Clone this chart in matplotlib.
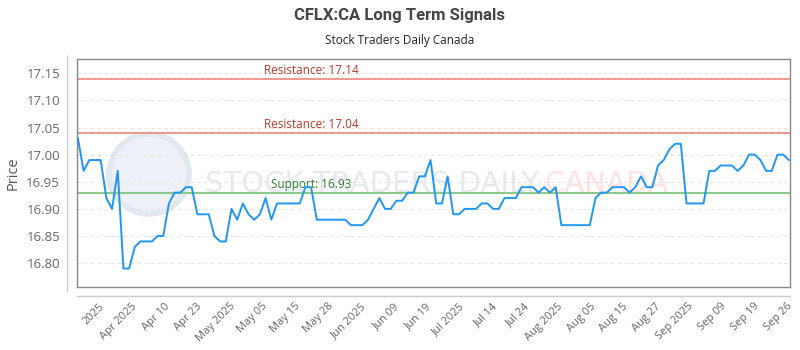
import matplotlib
matplotlib.use("Agg")
import matplotlib.pyplot as plt
import numpy as np
from matplotlib.lines import Line2D
from matplotlib.patches import Circle

# closing prices, one per trading day
prices = [17.03, 16.97, 16.99, 16.99, 16.99, 16.92, 16.90, 16.97, 16.79, 16.79,
          16.83, 16.84, 16.84, 16.84, 16.85, 16.85, 16.91, 16.93, 16.93, 16.94,
          16.94, 16.89, 16.89, 16.89, 16.85, 16.84, 16.84, 16.90, 16.88, 16.91,
          16.89, 16.88, 16.89, 16.92, 16.88, 16.91, 16.91, 16.91, 16.91, 16.91,
          16.94, 16.94, 16.88, 16.88, 16.88, 16.88, 16.88, 16.88, 16.87, 16.87,
          16.87, 16.88, 16.90, 16.92, 16.90, 16.90, 16.915, 16.915, 16.93, 16.93,
          16.96, 16.96, 16.99, 16.91, 16.91, 16.96, 16.89, 16.89, 16.90, 16.90,
          16.90, 16.91, 16.91, 16.90, 16.90, 16.92, 16.92, 16.92, 16.94, 16.94,
          16.94, 16.93, 16.94, 16.93, 16.94, 16.87, 16.87, 16.87, 16.87, 16.87,
          16.87, 16.92, 16.93, 16.93, 16.94, 16.94, 16.94, 16.93, 16.94, 16.96,
          16.94, 16.94, 16.98, 16.99, 17.01, 17.02, 17.02, 16.91, 16.91, 16.91,
          16.91, 16.97, 16.97, 16.98, 16.98, 16.98, 16.97, 16.98, 17.00, 17.00,
          16.99, 16.97, 16.97, 17.00, 17.00, 16.99]

tick_labels = ["2025", "Apr 2025", "Apr 10", "Apr 23", "May 2025", "May 05",
               "May 15", "May 28", "Jun 2025", "Jun 09", "Jun 19", "Jul 2025",
               "Jul 14", "Jul 24", "Aug 2025", "Aug 05", "Aug 15", "Aug 27",
               "Sep 2025", "Sep 09", "Sep 19", "Sep 26"]

resistance = [17.14, 17.04]
support = [16.93]

fig = plt.figure(figsize=(8, 3.5), dpi=100)
ax = fig.add_axes([0.096, 0.18, 0.8915, 0.651])

x = np.arange(len(prices))

# watermark (logo circle + text)
ax.add_patch(Circle((1.49, 1.76), 0.40, transform=fig.dpi_scale_trans,
                    facecolor="#eef2f8", edgecolor="#e2e8f0", lw=4, zorder=0))
ax.text(0.18, 0.45, "STOCK TRADERS DAILY", transform=ax.transAxes,
        fontsize=21, color="#e6eaf0", va="center", ha="left",
        family="DejaVu Sans", zorder=0)
ax.text(0.655, 0.45, "CANADA", transform=ax.transAxes,
        fontsize=21, color="#fde3e3", va="center", ha="left",
        family="DejaVu Sans", zorder=0)

for r in resistance:
    ax.axhline(r, color="#ef8f86", lw=1.3, zorder=2)
    ax.text(41, r + 0.003, f"Resistance: {r:.2f}", color="#b83a2f",
            fontsize=8.5, ha="center", va="bottom", family="Open Sans")
for s in support:
    ax.axhline(s, color="#8cc98c", lw=1.5, zorder=2)
    ax.text(41, s + 0.003, f"Support: {s:.2f}", color="#2e7d32",
            fontsize=8.5, ha="center", va="bottom", family="Open Sans")

ax.plot(x, prices, color="#2196f3", lw=1.4, zorder=3)

ax.set_xlim(-0.2, len(prices) - 0.8)
ax.set_ylim(16.756, 17.176)
ax.set_yticks([16.80, 16.85, 16.90, 16.95, 17.00, 17.05, 17.10, 17.15])
ax.yaxis.set_major_formatter(matplotlib.ticker.FormatStrFormatter("%.2f"))
ax.grid(axis="y", color="#e3e3e3", ls=(0, (3, 3)), lw=0.8)

tick_pos = np.linspace(3.6, 124.6, len(tick_labels))
ax.set_xticks(tick_pos)
ax.set_xticklabels(tick_labels, rotation=45, ha="right",
                   rotation_mode="anchor", family="Open Sans")
ax.tick_params(axis="x", length=0, pad=10, labelsize=8, colors="#666666")
ax.tick_params(axis="y", length=0, pad=12, labelsize=9.5, colors="#666666")
for lab in ax.get_yticklabels():
    lab.set_family("Open Sans")

for sp in ax.spines.values():
    sp.set_color("#888888")
    sp.set_linewidth(1.0)

ax.set_ylabel("Price", fontsize=10.5, color="#555555", family="Open Sans",
              labelpad=4)

# offset axis lines
fig.add_artist(Line2D([0.084, 0.084], [0.17, 0.84], color="#cccccc", lw=1))
fig.add_artist(Line2D([0.096, 0.9875], [0.154, 0.154], color="#cccccc", lw=1))

fig.text(0.5, 0.955, "CFLX:CA Long Term Signals", ha="center", va="center",
         fontsize=12, fontweight="bold", color="#444444", family="Roboto")
fig.text(0.5, 0.885, "Stock Traders Daily Canada", ha="center", va="center",
         fontsize=8.5, color="#222222", family="Open Sans")

fig.savefig("out.png", dpi=100)
